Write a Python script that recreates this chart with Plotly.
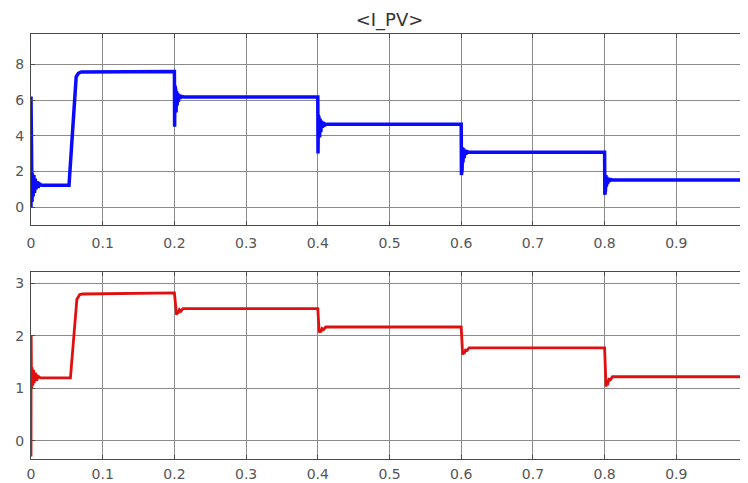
import plotly.graph_objects as go

# ---- data ----
title_text = "<I_PV>"

t_pv = [0, 0, 0.0005, 0.001, 0.0015, 0.002, 0.003, 0.004, 0.005, 0.006, 0.007, 0.008, 0.010, 0.012, 0.015,
        0.053, 0.063, 0.066, 0.070,
        0.2, 0.2003, 0.2008, 0.2013, 0.2018, 0.2023, 0.2030, 0.2038, 0.2046, 0.2055, 0.2065, 0.208, 0.210, 0.213,
        0.4, 0.4003, 0.4008, 0.4013, 0.4018, 0.4025, 0.4033, 0.4042, 0.4052, 0.4063, 0.408, 0.410, 0.413,
        0.6, 0.6003, 0.6008, 0.6013, 0.6018, 0.6025, 0.6033, 0.6042, 0.6052, 0.6065, 0.608, 0.611,
        0.8, 0.8003, 0.8008, 0.8013, 0.8018, 0.8025, 0.8033, 0.8042, 0.8052, 0.8065, 0.808, 0.811,
        1.0]
i_pv = [0, 6.2, 0.1, 2.0, 0.3, 1.9, 0.6, 1.8, 0.8, 1.6, 1.0, 1.45, 1.1, 1.3, 1.22,
        1.22, 7.3, 7.5, 7.57,
        7.6, 4.5, 6.8, 4.9, 6.6, 5.3, 6.5, 5.7, 6.4, 5.9, 6.3, 6.1, 6.2, 6.17,
        6.17, 3.0, 5.15, 3.4, 5.0, 3.9, 4.95, 4.2, 4.85, 4.45, 4.75, 4.6, 4.65,
        4.65, 1.8, 3.45, 2.1, 3.35, 2.5, 3.3, 2.75, 3.2, 2.95, 3.12, 3.07,
        3.07, 0.7, 1.85, 0.95, 1.8, 1.15, 1.7, 1.3, 1.62, 1.45, 1.55, 1.52,
        1.52]

t_red = [0, 0.0002, 0.0008, 0.0015, 0.0025, 0.0035, 0.0045, 0.006, 0.008, 0.010, 0.013,
         0.055, 0.064, 0.068, 0.072,
         0.2, 0.202, 0.2025, 0.203, 0.204, 0.205, 0.207, 0.209, 0.212,
         0.4, 0.402, 0.403, 0.404, 0.406, 0.408, 0.411,
         0.6, 0.602, 0.603, 0.604, 0.606, 0.608, 0.611,
         0.8, 0.802, 0.803, 0.804, 0.806, 0.808, 0.811,
         1.0]
v_red = [-0.3, 2.0, 1.0, 1.4, 1.05, 1.35, 1.1, 1.3, 1.15, 1.23, 1.2,
         1.2, 2.7, 2.79, 2.8,
         2.82, 2.4, 2.45, 2.40, 2.47, 2.43, 2.5, 2.47, 2.52,
         2.52, 2.06, 2.12, 2.07, 2.14, 2.12, 2.17,
         2.17, 1.64, 1.70, 1.66, 1.73, 1.72, 1.77,
         1.77, 1.03, 1.15, 1.06, 1.17, 1.16, 1.22,
         1.22]

x_ticks = [0, 0.1, 0.2, 0.3, 0.4, 0.5, 0.6, 0.7, 0.8, 0.9, 1]
x_tick_text = ["0", "0.1", "0.2", "0.3", "0.4", "0.5", "0.6", "0.7", "0.8", "0.9", "1"]
y1_ticks = [0, 2, 4, 6, 8]
y2_ticks = [0, 1, 2, 3]

# ---- figure ----
# page body has an 8px margin, so the figure is sized to end at the window edge
W, H = 740, 475
OFF = 8
FAM = "DejaVu Sans, Arial, sans-serif"
fig = go.Figure()
fig.add_trace(go.Scatter(x=t_pv, y=i_pv, mode="lines", line=dict(color="#0a0aff", width=3.5),
                         xaxis="x", yaxis="y", showlegend=False, hoverinfo="skip"))
fig.add_trace(go.Scatter(x=t_red, y=v_red, mode="lines", line=dict(color="#e01010", width=2.8),
                         xaxis="x2", yaxis="y2", showlegend=False, hoverinfo="skip"))

font = dict(family=FAM, size=14, color="#555555")
axis_common = dict(showgrid=True, gridcolor="#8a8a8a", gridwidth=1, zeroline=False,
                   showline=True, linecolor="#4a4a4a", linewidth=1, mirror="ticks",
                   ticks="inside", ticklen=4, tickcolor="#4a4a4a", tickfont=font,
                   automargin=False)

top = (1 - (225 - OFF) / H, 1 - (34 - OFF) / H)
bot = (1 - (459 - OFF) / H, 1 - (272 - OFF) / H)

fig.update_layout(
    width=W, height=H,
    margin=dict(l=31 - OFF, r=0, t=0, b=0),
    paper_bgcolor="white", plot_bgcolor="white",
    xaxis=dict(axis_common, range=[0, 1], domain=[0, 1], anchor="y",
               tickvals=x_ticks, ticktext=x_tick_text, ticklabelstandoff=5),
    yaxis=dict(axis_common, range=[-1, 9.7], domain=list(top), anchor="x", tickvals=y1_ticks,
               ticklabelstandoff=3),
    xaxis2=dict(axis_common, range=[0, 1], domain=[0, 1], anchor="y2",
                tickvals=x_ticks, ticktext=x_tick_text, ticklabelstandoff=2),
    yaxis2=dict(axis_common, range=[-0.35, 3.22], domain=list(bot), anchor="x2", tickvals=y2_ticks,
                ticklabelstandoff=3),
    title=dict(text=title_text, x=0.5, xanchor="center", xref="paper", y=1 - (20 - OFF) / H, yanchor="middle",
               yref="container", font=dict(family=FAM, size=18, color="#333333")),
)

fig.write_html("out.html")
